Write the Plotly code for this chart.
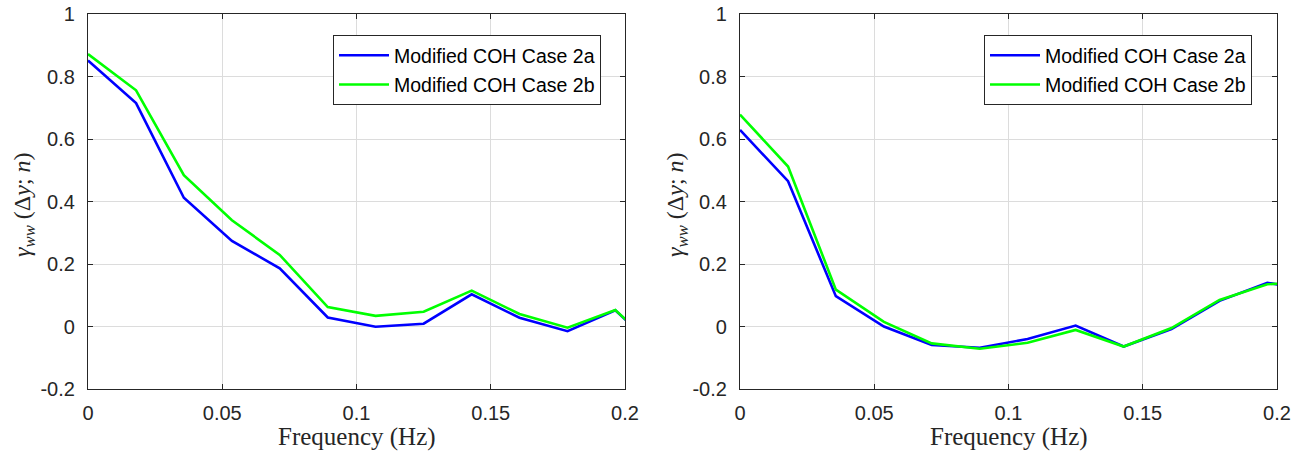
import plotly.graph_objects as go

# ---- data ----
freq = [0.0, 0.0179, 0.0357, 0.0536, 0.0714, 0.0893, 0.1071, 0.125, 0.1429, 0.1607, 0.1786, 0.1964, 0.2143]

left_2a = [0.851, 0.715, 0.412, 0.274, 0.186, 0.029, -0.001, 0.009, 0.103, 0.028, -0.015, 0.052, -0.092]
left_2b = [0.872, 0.756, 0.484, 0.340, 0.229, 0.062, 0.034, 0.047, 0.115, 0.040, -0.004, 0.053, -0.092]

right_2a = [0.629, 0.465, 0.097, 0.000, -0.059, -0.068, -0.040, 0.003, -0.064, -0.008, 0.082, 0.140, 0.115]
right_2b = [0.678, 0.512, 0.118, 0.015, -0.054, -0.071, -0.052, -0.011, -0.064, -0.005, 0.085, 0.135, 0.145]

series_names = ["Modified COH Case 2a", "Modified COH Case 2b"]
series_colors = ["#0000ff", "#00ff00"]

x_tickvals = [0, 0.05, 0.1, 0.15, 0.2]
x_ticktext = ["0", "0.05", "0.1", "0.15", "0.2"]
y_tickvals = [-0.2, 0, 0.2, 0.4, 0.6, 0.8, 1.0]
y_ticktext = ["-0.2", "0", "0.2", "0.4", "0.6", "0.8", "1"]

x_title = "Frequency (Hz)"
y_title = "<i>γ</i><sub><i>ww</i></sub> (Δ<i>y</i>; <i>n</i>)"

W, H = 1299, 454
fig = go.Figure()

panels = [
    (left_2a, left_2b, "x", "y", "legend", "L"),
    (right_2a, right_2b, "x2", "y2", "legend2", "R"),
]
for a, b, xa, ya, lg, tag in panels:
    for i, (vals, name, col) in enumerate(zip([a, b], series_names, series_colors)):
        fig.add_trace(go.Scatter(
            x=freq, y=vals, mode="lines", name=name,
            line=dict(color=col, width=2.6),
            xaxis=xa, yaxis=ya, legend=lg, legendgroup=f"{tag}{i}",
        ))

axis_col = "#262626"
grid_col = "#dcdcdc"
tick_font = dict(family="Liberation Sans, Arial, sans-serif", size=20, color=axis_col)

common_x = dict(range=[0, 0.2], tickvals=x_tickvals, ticktext=x_ticktext,
                showgrid=True, gridcolor=grid_col, gridwidth=1, automargin=False,
                zeroline=False, showline=True, linecolor=axis_col, linewidth=1.3,
                mirror="ticks", ticks="inside", ticklen=5, tickcolor=axis_col,
                tickfont=tick_font, ticklabelstandoff=6)
common_y = dict(range=[-0.2, 1.0], tickvals=y_tickvals, ticktext=y_ticktext,
                showgrid=True, gridcolor=grid_col, gridwidth=1, automargin=False,
                zeroline=False, showline=True, linecolor=axis_col, linewidth=1.3,
                mirror="ticks", ticks="inside", ticklen=5, tickcolor=axis_col,
                tickfont=tick_font, ticklabelstandoff=8)

legend_font = dict(family="Liberation Sans, Arial, sans-serif", size=19.5, color="#000000")
ydom = [1 - 389 / H, 1 - 14 / H]
fig.update_layout(
    width=W, height=H,
    margin=dict(l=0, r=0, t=0, b=0, autoexpand=False),
    paper_bgcolor="white", plot_bgcolor="white",
    xaxis=dict(domain=[88 / W, 625 / W], anchor="y", **common_x),
    yaxis=dict(domain=ydom, anchor="x", **common_y),
    xaxis2=dict(domain=[740 / W, 1277 / W], anchor="y2", **common_x),
    yaxis2=dict(domain=ydom, anchor="x2", **common_y),
    legend=dict(x=333 / W, y=1 - 35 / H, xanchor="left", yanchor="top",
                bgcolor="white", bordercolor=axis_col, borderwidth=1,
                font=legend_font, traceorder="grouped", tracegroupgap=1, itemwidth=50),
    legend2=dict(x=984 / W, y=1 - 35 / H, xanchor="left", yanchor="top",
                 bgcolor="white", bordercolor=axis_col, borderwidth=1,
                 font=legend_font, traceorder="grouped", tracegroupgap=1, itemwidth=50),
    showlegend=True,
)

title_font_x = dict(family="Liberation Serif, Times New Roman, serif", size=25, color=axis_col)
title_font_y = dict(family="Liberation Serif, Times New Roman, serif", size=24, color=axis_col)
for cx in [(88 + 625) / 2 / W, (740 + 1277) / 2 / W]:
    fig.add_annotation(text=x_title, x=cx, y=1 - 437 / H, xref="paper", yref="paper",
                       xanchor="center", yanchor="middle", showarrow=False, font=title_font_x)
for cx in [24 / W, 677 / W]:
    fig.add_annotation(text=y_title, x=cx, y=1 - 205 / H, xref="paper", yref="paper",
                       xanchor="center", yanchor="middle", showarrow=False, textangle=-90,
                       font=title_font_y)

fig.write_html("out.html")
